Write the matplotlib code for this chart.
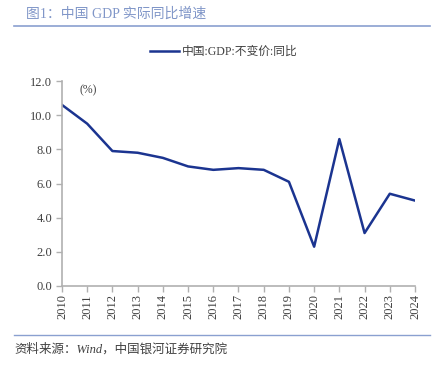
import matplotlib.pyplot as plt
import numpy as np

years = [str(y) for y in range(2010, 2025)]
gdp = [10.6, 9.5, 7.9, 7.8, 7.5, 7.0, 6.8, 6.9, 6.8, 6.1, 2.3, 8.6, 3.1, 5.4, 5.0]
yticks = [0, 2, 4, 6, 8, 10, 12]

fonts = ['Liberation Serif', 'Noto Sans CJK SC', 'DejaVu Sans']
plt.rcParams['font.family'] = fonts

W, H = 443, 366
fig = plt.figure(figsize=(W / 100, H / 100), dpi=100)
ax = fig.add_axes([62 / W, 1 - 286 / H, (415 - 62) / W, (286 - 81) / H])

x = np.arange(len(years))
ax.plot(x, gdp, color='#1b3490', lw=1.8, label='中国:GDP:不变价:同比')
ax.set_xlim(0, len(years) - 1)
ax.set_ylim(0, 12)
ax.set_yticks(yticks)
ax.set_yticklabels([f'{v:.1f}' for v in yticks], fontsize=9, color='#404040')
ax.set_xticks(x)
ax.set_xticklabels(years, rotation=90, fontsize=9, color='#404040')
for s in ['top', 'right']:
    ax.spines[s].set_visible(False)
for s in ['left', 'bottom']:
    ax.spines[s].set_color('#b0b0b0')
    ax.spines[s].set_linewidth(1.2)
ax.tick_params(colors='#b0b0b0', length=4, width=1)
ax.tick_params(axis='x', labelcolor='#404040', pad=2)
ax.tick_params(axis='y', labelcolor='#404040', pad=3)
ax.text(0.7, 11.3, '(%)', fontsize=8.5, color='#404040')

leg = ax.legend(loc='center', bbox_to_anchor=(224 / W, 1 - 52 / H), bbox_transform=fig.transFigure,
                frameon=False, fontsize=8.5, handlelength=2.4, handletextpad=0.3)
for t in leg.get_texts():
    t.set_color('#404040')

fig.text(26 / W, 1 - 14 / H, '图1：中国 GDP 实际同比增速', fontsize=10, color='#8096c8', va='center')
fig.add_artist(plt.Line2D([14 / W, 430 / W], [1 - 26 / H] * 2, color='#8aa0d0', lw=1.2))
fig.add_artist(plt.Line2D([14 / W, 430 / W], [1 - 335 / H] * 2, color='#8aa0d0', lw=1.0))
fig.text(14 / W, 1 - 349 / H, '资料来源：Wind，中国银河证券研究院', fontsize=9, color='#404040',
         va='center', style='italic')

fig.savefig('out.png', dpi=100)
